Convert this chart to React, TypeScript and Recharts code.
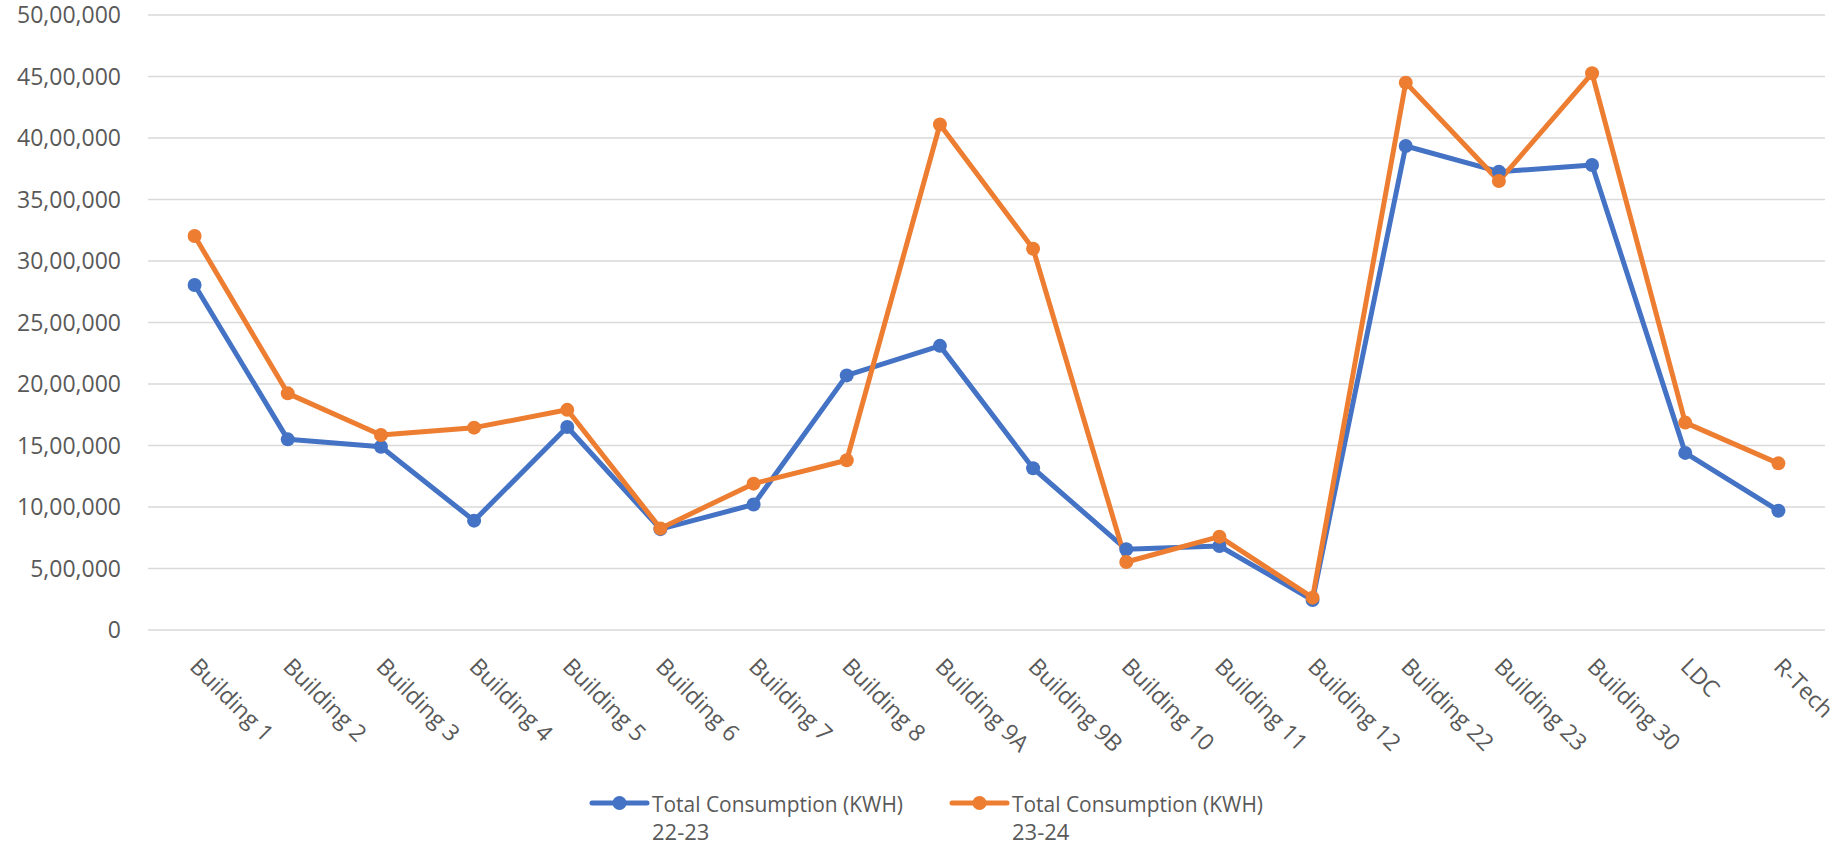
import React from 'react';
import { LineChart, Line, XAxis, YAxis, CartesianGrid } from 'recharts';

// Building-wise annual electricity consumption (KWH)
const buildings = [
  'Building 1', 'Building 2', 'Building 3', 'Building 4', 'Building 5', 'Building 6',
  'Building 7', 'Building 8', 'Building 9A', 'Building 9B', 'Building 10', 'Building 11',
  'Building 12', 'Building 22', 'Building 23', 'Building 30', 'LDC', 'R-Tech',
];

const consumption2223 = [
  2805000, 1550000, 1490000, 889000, 1650000, 820000, 1020000, 2070000, 2310000,
  1315000, 656000, 683000, 244000, 3935000, 3726000, 3780000, 1440000, 970000,
];

const consumption2324 = [
  3203000, 1924000, 1585000, 1645000, 1790000, 826000, 1190000, 1380000, 4110000,
  3100000, 553000, 759000, 263000, 4450000, 3650000, 4526000, 1686000, 1355000,
];

const yTicks = [0, 500000, 1000000, 1500000, 2000000, 2500000, 3000000, 3500000, 4000000, 4500000, 5000000];

const seriesNames = ['Total Consumption (KWH)', 'Total Consumption (KWH)'];
const seriesYears = ['22-23', '23-24'];
const seriesColors = ['#4472C4', '#ED7D31'];

const data = buildings.map((name, i) => ({
  name,
  fy2223: consumption2223[i],
  fy2324: consumption2324[i],
}));

const FONT = '"Open Sans", "Noto Sans", sans-serif';
const TEXT = '#595959';

// lakh/crore style grouping: 50,00,000
const formatIndian = (v: number) => {
  const s = String(Math.round(v));
  if (s.length <= 3) return s;
  const last3 = s.slice(-3);
  let rest = s.slice(0, -3);
  const parts: string[] = [];
  while (rest.length > 2) {
    parts.unshift(rest.slice(-2));
    rest = rest.slice(0, -2);
  }
  if (rest) parts.unshift(rest);
  return parts.join(',') + ',' + last3;
};

const SlantedTick = (props: any) => {
  const { x, y, payload } = props;
  return (
    <g transform={`translate(${x},${y})`}>
      <text
        x={0}
        y={0}
        transform="translate(-6,38) rotate(45)"
        textAnchor="start"
        fill={TEXT}
        fontSize={23}
        fontFamily={FONT}
      >
        {payload.value}
      </text>
    </g>
  );
};

const LegendBlock = () => {
  const itemX = [592, 952];
  return (
    <svg
      width={1837}
      height={66}
      style={{ position: 'absolute', left: 0, top: 780 }}
    >
      {seriesNames.map((nm, i) => (
        <g key={i} transform={`translate(${itemX[i]},0)`}>
          <line x1={0} y1={23} x2={55} y2={23} stroke={seriesColors[i]} strokeWidth={5} strokeLinecap="round" />
          <circle cx={27.5} cy={23} r={7} fill={seriesColors[i]} />
          <text x={60} y={31.5} fill={TEXT} fontSize={22} fontFamily={FONT} textLength={251} lengthAdjust="spacingAndGlyphs">
            {nm}
          </text>
          <text x={60} y={60} fill={TEXT} fontSize={22} fontFamily={FONT}>
            {seriesYears[i]}
          </text>
        </g>
      ))}
    </svg>
  );
};

export default function App() {
  return (
    <div style={{ position: 'absolute', left: 0, top: 0, width: 1837, height: 846, background: '#fff' }}>
      <LineChart
        width={1837}
        height={846}
        data={data}
        margin={{ top: 15, right: 12, left: 0, bottom: 0 }}
      >
        <CartesianGrid vertical={false} stroke="#d9d9d9" strokeWidth={1.4} />
        <XAxis
          dataKey="name"
          interval={0}
          height={216}
          axisLine={false}
          tickLine={false}
          tickSize={0}
          tickMargin={0}
          padding={{ left: 46.6, right: 46.6 }}
          tick={<SlantedTick />}
        />
        <YAxis
          width={148}
          domain={[0, 5000000]}
          ticks={yTicks}
          axisLine={false}
          tickLine={false}
          tickSize={0}
          tickMargin={27}
          tickFormatter={formatIndian}
          tick={{ fill: TEXT, fontSize: 23, fontFamily: FONT }}
        />
        <Line
          dataKey="fy2223"
          name={`${seriesNames[0]} ${seriesYears[0]}`}
          stroke={seriesColors[0]}
          strokeWidth={5}
          strokeLinejoin="round"
          dot={{ r: 7, fill: seriesColors[0], stroke: 'none' }}
          activeDot={false}
          isAnimationActive={false}
        />
        <Line
          dataKey="fy2324"
          name={`${seriesNames[1]} ${seriesYears[1]}`}
          stroke={seriesColors[1]}
          strokeWidth={5}
          strokeLinejoin="round"
          dot={{ r: 7, fill: seriesColors[1], stroke: 'none' }}
          activeDot={false}
          isAnimationActive={false}
        />
      </LineChart>
      <LegendBlock />
    </div>
  );
}
